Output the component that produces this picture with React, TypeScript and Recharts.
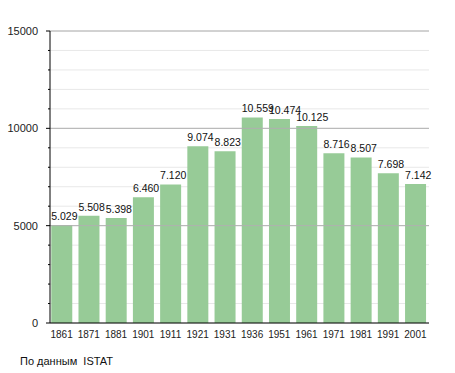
import React from "react";
import { BarChart, Bar, XAxis, YAxis, CartesianGrid, ReferenceLine, LabelList } from "recharts";

const years = ["1861", "1871", "1881", "1901", "1911", "1921", "1931", "1936", "1951", "1961", "1971", "1981", "1991", "2001"];
const population = [5029, 5508, 5398, 6460, 7120, 9074, 8823, 10559, 10474, 10125, 8716, 8507, 7698, 7142];
const yTicks = [0, 1000, 2000, 3000, 4000, 5000, 6000, 7000, 8000, 9000, 10000, 11000, 12000, 13000, 14000, 15000];
const majorTicks = [5000, 10000, 15000];
const sourceNote = "По данным  ISTAT";

const FONT = "'Liberation Sans', Arial, sans-serif";

const chartData = years.map((year, i) => ({ year, value: population[i] }));

const formatThousands = (v: number) => {
  const s = String(v);
  return s.length > 3 ? s.slice(0, -3) + "." + s.slice(-3) : s;
};

const YTick = (props: any) => {
  const { x, y, payload } = props;
  const v = payload.value as number;
  const major = v % 5000 === 0;
  const axisX = x + 12;
  return (
    <g>
      <line x1={axisX - (major ? 4 : 2)} x2={axisX} y1={y} y2={y} stroke="#000" />
      {major && (
        <text x={x} y={y} dy={4} textAnchor="end" fontSize={11} fill="#222" fontFamily={FONT}>
          {v}
        </text>
      )}
    </g>
  );
};

const ValueLabel = (props: any) => {
  const { x, y, value } = props;
  return (
    <text x={x} y={y - 5} textAnchor="start" fontSize={10.5} fill="#111" fontFamily={FONT}>
      {formatThousands(value)}
    </text>
  );
};

export default function App() {
  return (
    <div style={{ position: "absolute", left: 0, top: 0, width: 455, height: 373, background: "#fff" }}>
      <BarChart
        width={455}
        height={373}
        data={chartData}
        margin={{ top: 31, right: 26, bottom: 30, left: 0 }}
        barCategoryGap="12%"
      >
        <CartesianGrid vertical={false} stroke="#e8e8e8" />
        {majorTicks.map((t) => (
          <ReferenceLine key={t} y={t} stroke="#b0b0b0" />
        ))}
        <XAxis
          dataKey="year"
          tickLine={false}
          axisLine={{ stroke: "#000" }}
          height={20}
          tickMargin={2}
          interval={0}
          padding={{ left: -2, right: 0 }}
          tick={{ fontSize: 10, fill: "#222", fontFamily: FONT }}
        />
        <YAxis
          domain={[0, 15000]}
          ticks={yTicks}
          interval={0}
          width={50}
          tickLine={false}
          tickSize={0}
          tickMargin={12}
          axisLine={{ stroke: "#000" }}
          tick={<YTick />}
        />
        <Bar dataKey="value" fill="#97cb97" isAnimationActive={false}>
          <LabelList dataKey="value" content={<ValueLabel />} />
        </Bar>
      </BarChart>
      <div
        style={{
          position: "absolute",
          left: 20,
          top: 355,
          fontSize: 11,
          fontFamily: FONT,
          color: "#111",
          whiteSpace: "pre",
        }}
      >
        {sourceNote}
      </div>
    </div>
  );
}
